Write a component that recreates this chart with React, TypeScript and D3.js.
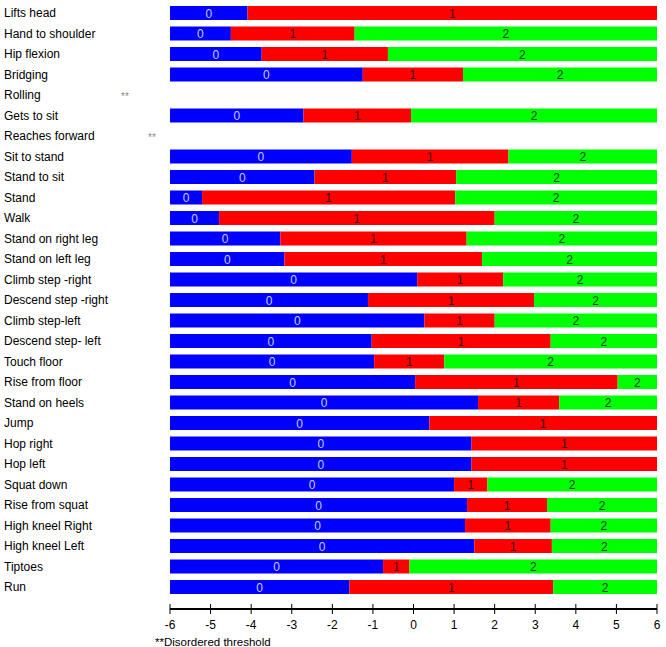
import React from "react";
import * as d3 from "d3";

const items = [
  "Lifts head", "Hand to shoulder", "Hip flexion", "Bridging", "Rolling", "Gets to sit",
  "Reaches forward", "Sit to stand", "Stand to sit", "Stand", "Walk", "Stand on right leg",
  "Stand on left leg", "Climb step -right", "Descend step -right", "Climb step-left",
  "Descend step- left", "Touch floor", "Rise from floor", "Stand on heels", "Jump",
  "Hop right", "Hop left", "Squat down", "Rise from squat", "High kneel Right",
  "High kneel Left", "Tiptoes", "Run",
];
// threshold between category 0 and 1 (null = disordered)
const threshold1: (number | null)[] = [
  -4.09, -4.5, -3.74, -1.25, null, -2.71, null, -1.52, -2.44, -5.21, -4.79, -3.28,
  -3.18, 0.09, -1.12, 0.27, -1.03, -0.97, 0.04, 1.59, 0.39, 1.43, 1.43, 1.0, 1.32,
  1.27, 1.5, -0.75, -1.58,
];
// threshold between category 1 and 2 (null = no category 2 shown)
const threshold2: (number | null)[] = [
  null, -1.45, -0.63, 1.22, null, -0.06, null, 2.34, 1.05, 1.03, 2.0, 1.31,
  1.69, 2.21, 2.97, 2.0, 3.38, 0.76, 5.03, 3.59, null, null, null, 1.82, 3.29,
  3.38, 3.41, -0.1, 3.44,
];
const disordered = ["Rolling", "Reaches forward"];
const tickValues = [-6, -5, -4, -3, -2, -1, 0, 1, 2, 3, 4, 5, 6];
const categories = ["0", "1", "2"];
const catColors = ["#0000ff", "#ff0000", "#00ff00"];
const catTextColors = ["#c8ccff", "#3a0000", "#003a00"];

const W = 666;
const H = 647;
const FONT = "'Liberation Sans', Arial, sans-serif";

export default function App() {
  const x = d3.scaleLinear().domain([-6, 6]).range([170, 657]);
  const y = d3.scalePoint<string>().domain(items).range([13, 587]);
  const barH = 14;
  const axisY = 609;

  const segments: { item: string; cat: number; x0: number; x1: number }[] = [];
  items.forEach((item, i) => {
    const t1 = threshold1[i];
    if (t1 === null) return;
    const t2 = threshold2[i];
    segments.push({ item, cat: 0, x0: -6, x1: t1 });
    segments.push({ item, cat: 1, x0: t1, x1: t2 === null ? 6 : t2 });
    if (t2 !== null) segments.push({ item, cat: 2, x0: t2, x1: 6 });
  });

  const starX: Record<string, number> = { Rolling: 125, "Reaches forward": 152 };

  return (
    <svg
      width={W}
      height={H}
      style={{ position: "absolute", left: 0, top: 0, background: "#fff" }}
      fontFamily={FONT}
    >
      {items.map((item) => (
        <text key={item} x={4} y={y(item)!} dy="0.35em" fontSize={12} fill="#000">
          {item}
        </text>
      ))}
      {disordered.map((item) => (
        <text
          key={"s" + item}
          x={starX[item]}
          y={y(item)! + 4.5}
          fontSize={10}
          fill="#888"
          textAnchor="middle"
        >
          **
        </text>
      ))}
      {segments.map((s, k) => (
        <g key={k}>
          <rect
            x={x(s.x0)}
            y={y(s.item)! - barH / 2}
            width={x(s.x1) - x(s.x0)}
            height={barH}
            fill={catColors[s.cat]}
          />
          <text
            x={(x(s.x0) + x(s.x1)) / 2}
            y={y(s.item)!}
            dy="0.38em"
            fontSize={12}
            textAnchor="middle"
            fill={catTextColors[s.cat]}
          >
            {categories[s.cat]}
          </text>
        </g>
      ))}
      <line x1={x(-6)} x2={x(6)} y1={axisY} y2={axisY} stroke="#000" strokeWidth={2} />
      {tickValues.map((t) => (
        <g key={t}>
          <line x1={x(t)} x2={x(t)} y1={axisY - 5} y2={axisY + 5} stroke="#000" strokeWidth={1} />
          <text x={x(t)} y={axisY + 16} dy="0.35em" fontSize={12} textAnchor="middle" fill="#000">
            {t}
          </text>
        </g>
      ))}
      <text x={155} y={642} dy="0.35em" fontSize={11.5} fill="#000">
        **Disordered threshold
      </text>
    </svg>
  );
}
